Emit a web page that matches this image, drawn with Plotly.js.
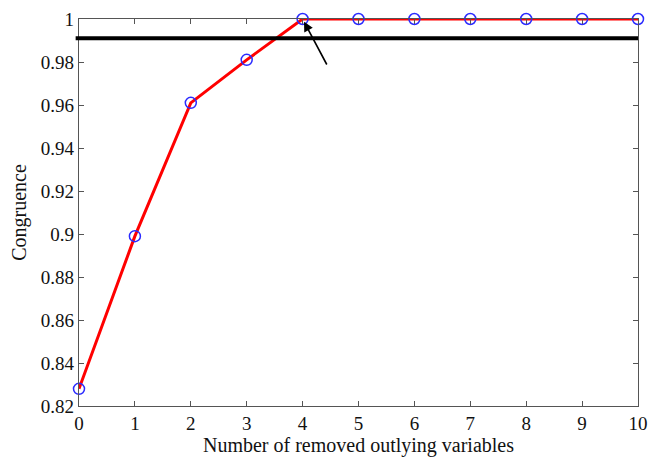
<!DOCTYPE html>
<html><head><meta charset="utf-8">
<script src="https://cdn.plot.ly/plotly-3.0.1.min.js"></script>
<style>html,body{margin:0;padding:0;background:#fff}#chart{width:662px;height:457px}</style>
</head><body><div id="chart"></div>
<script>
const removed = [0,1,2,3,4,5,6,7,8,9,10];
const congruence = [0.828,0.899,0.961,0.981,1.0,1.0,1.0,1.0,1.0,1.0,1.0];
const threshold = 0.991;
const xTicks = [0,1,2,3,4,5,6,7,8,9,10];
const yTicks = [0.82,0.84,0.86,0.88,0.9,0.92,0.94,0.96,0.98,1];
const yTickText = ['0.82','0.84','0.86','0.88','0.9','0.92','0.94','0.96','0.98','1'];

const fam = '"Liberation Serif", "Times New Roman", serif';
const font = {family:fam, color:'#111', size:19};
const axisCommon = {showline:true, mirror:'ticks', linecolor:'#555', linewidth:1.2,
  ticks:'inside', ticklen:5, tickcolor:'#555', showgrid:false, zeroline:false,
  tickfont:font};

Plotly.newPlot('chart', [{
  x: removed, y: congruence, type:'scatter', mode:'lines+markers',
  line:{color:'#ff0000', width:3},
  marker:{symbol:'circle-open', size:11, color:'#2a2aff', line:{width:1.5, color:'#2a2aff'}},
  cliponaxis:false
}], {
  width:662, height:457,
  margin:{l:79, r:24, t:19, b:51},
  paper_bgcolor:'#fff', plot_bgcolor:'#fff',
  showlegend:false,
  xaxis: Object.assign({}, axisCommon, {range:[0,10], tickvals:xTicks,
    title:{text:'Number of removed outlying variables', font:{family:fam, size:20, color:'#111'}, standoff:6}}),
  yaxis: Object.assign({}, axisCommon, {range:[0.82,1.0], tickvals:yTicks, ticktext:yTickText,
    title:{text:'Congruence', font:{family:fam, size:20, color:'#111'}, standoff:8}}),
  shapes:[{type:'line', xref:'paper', yref:'y', x0:-0.006, x1:1, y0:threshold, y1:threshold,
    line:{color:'#000', width:4}}],
  annotations:[{x:4, y:1.0, xref:'x', yref:'y', ax:25, ay:47, text:'', showarrow:true,
    arrowhead:2, arrowsize:1.2, arrowwidth:1.6, arrowcolor:'#000', standoff:3}]
}, {displayModeBar:false, staticPlot:true});
</script></body></html>
